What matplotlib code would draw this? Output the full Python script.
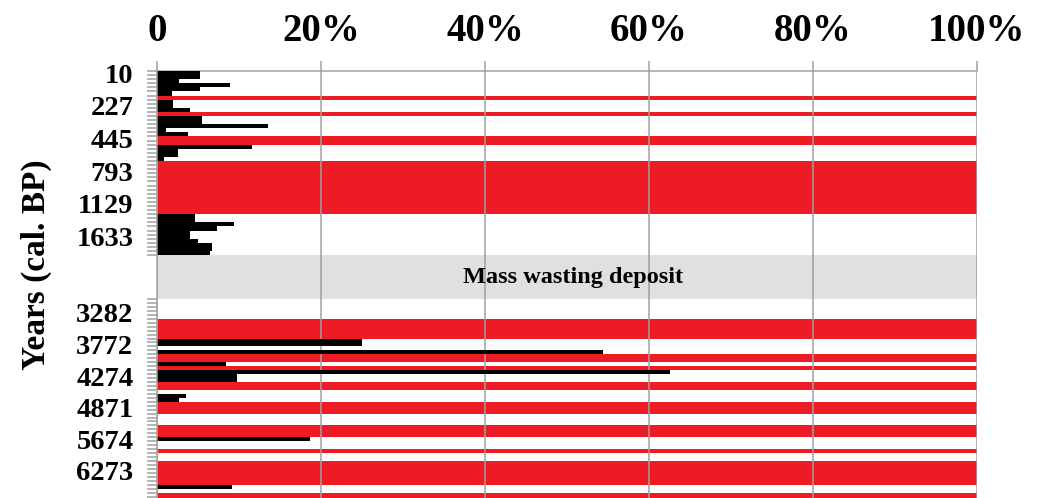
import numpy as np
import matplotlib
matplotlib.use('Agg')
import matplotlib.pyplot as plt

nan = np.nan

# upper core section, one value per sample (%), nan = no data (red bar)
top_values = [5.2, 5.2, 2.7, 8.9, 5.2, 1.8, nan, 2.0, 2.0, 4.0, nan,
              5.5, 5.5, 13.5, 1.1, 3.8, nan, nan, 11.6, 2.6, 2.6, 0.9,
              nan, nan, nan, nan, nan, nan, nan, nan, nan, nan, nan, nan, nan,
              4.6, 4.6, 9.4, 7.3, 4.0, 4.0, 5.0, 6.7, 6.7, 6.5]
top_labels = ['10', '227', '445', '793', '1129', '1633']
top_label_idx = [0, 8, 16, 24, 32, 40]

# lower core section
bottom_values = [0, 0, 0, 0, 0, nan, nan, nan, nan, nan,
                 25.0, 25.0, 0, 54.4, nan, nan, 8.4, nan, 62.6, 9.8, 9.8,
                 nan, nan, 0, 3.5, 2.7, nan, nan, nan, 0, 0, 0,
                 nan, nan, nan, 18.7, 0, 0, nan, 0, 0,
                 nan, nan, nan, nan, nan, nan, 9.1, 0, nan, nan]
bottom_labels = ['3282', '3772', '4274', '4871', '5674', '6273']
bottom_label_idx = [3, 11, 19, 27, 35, 43]

x_ticks = [0, 20, 40, 60, 80, 100]
x_labels = ['0', '20%', '40%', '60%', '80%', '100%']
gap_label = 'Mass wasting deposit'
y_title = 'Years (cal. BP)'

RED = '#ed1c24'
GRID = '#a0a0a0'
BAND = '#e0e0e0'

plt.rcParams['font.family'] = ['Liberation Serif', 'DejaVu Serif']
plt.rcParams['font.weight'] = 'bold'

W, H = 1045, 498
X0, X1 = 157, 977


def add_ax(fig, top_px, bottom_px):
    return fig.add_axes([X0 / W, 1 - bottom_px / H, (X1 - X0) / W, (bottom_px - top_px) / H])


def style(ax):
    ax.set_xlim(0, 100)
    ax.set_xticks(x_ticks)
    ax.grid(axis='x', color=GRID, linewidth=1.1, zorder=5)
    ax.set_axisbelow(False)
    for s in ['top', 'right', 'bottom']:
        ax.spines[s].set_visible(False)
    ax.spines['left'].set_color(GRID)
    ax.spines['left'].set_linewidth(1.1)
    ax.spines['left'].set_zorder(6)
    ax.tick_params(axis='x', length=0, labelbottom=False, labeltop=False)


def draw_section(ax, values, label_idx, labels):
    vals = np.array(values, dtype=float)
    n = len(vals)
    y = np.arange(n) + 0.5
    missing = np.isnan(vals)
    ax.barh(y[missing], 100, height=1.0, color=RED, linewidth=0, zorder=2)
    ax.barh(y[~missing], vals[~missing], height=1.0, color='black', linewidth=0, zorder=3)
    ax.set_ylim(n, 0)
    style(ax)
    ax.set_yticks(np.array(label_idx) + 0.5)
    ax.set_yticklabels(labels)
    ax.set_yticks(np.arange(n + 1), minor=True)
    ax.tick_params(axis='y', which='major', length=0, pad=17, labelsize=20.5)
    ax.tick_params(axis='y', which='minor', length=7, width=1.1, color=GRID)


def main():
    fig = plt.figure(figsize=(W / 100, H / 100), dpi=100)

    ax_top = add_ax(fig, 71, 71 + 4.09 * len(top_values))
    draw_section(ax_top, top_values, top_label_idx, top_labels)
    ax_top.spines['top'].set_visible(True)
    ax_top.spines['top'].set_color(GRID)
    ax_top.spines['top'].set_linewidth(1.1)
    ax_top.xaxis.tick_top()
    ax_top.set_xticklabels(x_labels)
    ax_top.tick_params(axis='x', length=7, width=1.1, color=GRID,
                       labeltop=True, labelsize=28, pad=8)

    gap_top = 71 + 4.09 * len(top_values)
    ax_mid = add_ax(fig, gap_top, 299)
    ax_mid.set_ylim(0, 1)
    ax_mid.axhspan(0, 1, color=BAND, zorder=1)
    style(ax_mid)
    ax_mid.set_yticks([])
    ax_mid.text(0.507, 0.5, gap_label, transform=ax_mid.transAxes,
                ha='center', va='center', fontsize=17.5, fontweight='bold', zorder=7)

    ax_bot = add_ax(fig, 299, 299 + 3.95 * len(bottom_values))
    draw_section(ax_bot, bottom_values, bottom_label_idx, bottom_labels)

    fig.text(36 / W, 1 - 265 / H, y_title, rotation=90, ha='center', va='center',
             fontsize=24, fontweight='bold')

    fig.savefig('out.png', dpi=100)


main()
